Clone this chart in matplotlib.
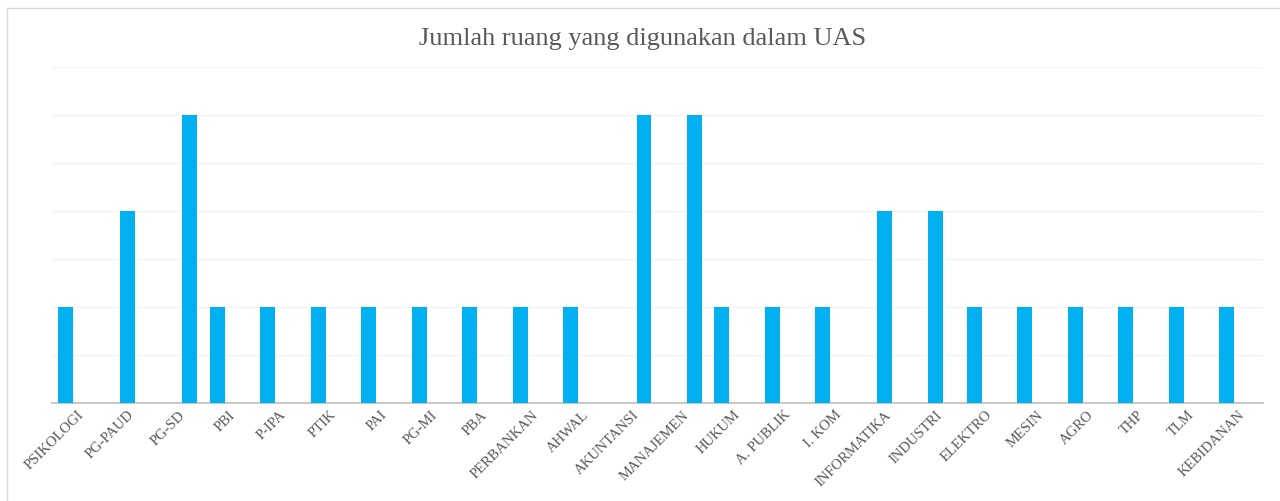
import numpy as np
import matplotlib.pyplot as plt
from matplotlib.patches import Rectangle

categories = ['PSIKOLOGI', 'PG-PAUD', 'PG-SD', 'PBI', 'P-IPA', 'PTIK', 'PAI', 'PG-MI',
              'PBA', 'PERBANKAN', 'AHWAL', 'AKUNTANSI', 'MANAJEMEN', 'HUKUM', 'A. PUBLIK',
              'I. KOM', 'INFORMATIKA', 'INDUSTRI', 'ELEKTRO', 'MESIN', 'AGRO', 'THP', 'TLM',
              'KEBIDANAN']
# three series in the original chart; each category has a value in only one of them
series_1 = [2, 0, 0, 2, 2, 2, 2, 2, 2, 2, 2, 0, 0, 2, 2, 2, 0, 0, 2, 2, 2, 2, 2, 2]
series_2 = [0, 4, 0, 0, 0, 0, 0, 0, 0, 0, 0, 0, 0, 0, 0, 0, 4, 4, 0, 0, 0, 0, 0, 0]
series_3 = [0, 0, 6, 0, 0, 0, 0, 0, 0, 0, 0, 6, 6, 0, 0, 0, 0, 0, 0, 0, 0, 0, 0, 0]

plt.rcParams['font.family'] = ['Liberation Serif', 'DejaVu Serif']

fig = plt.figure(figsize=(12.8, 5.02), dpi=100)
ax = fig.add_axes([0.0406, 0.1946, 0.9465, 0.6707])

x = np.arange(len(categories))
w = 0.297
off = 0.228
col = '#00B0F0'
for k, s in enumerate([series_1, series_2, series_3]):
    ax.bar(x + (k - 1) * off, s, width=w, color=col, linewidth=0, zorder=3)

ax.set_xlim(-0.5, len(categories) - 0.5)
ax.set_ylim(0, 7)
ax.set_yticks(np.arange(0, 8, 1))
ax.yaxis.grid(True, color='#F2F2F2', linewidth=1, zorder=0)
ax.tick_params(axis='y', left=False, labelleft=False)
ax.tick_params(axis='x', length=0, pad=3)
ax.set_xticks(x)
ax.set_xticklabels(categories, rotation=45, ha='right', rotation_mode='anchor',
                   fontsize=10.5, color='#595959')
for side in ['top', 'right', 'left']:
    ax.spines[side].set_visible(False)
ax.spines['bottom'].set_color('#BFBFBF')
ax.spines['bottom'].set_linewidth(1.2)

fig.text(0.502, 0.922, 'Jumlah ruang yang digunakan dalam UAS', ha='center', va='center',
         fontsize=19, color='#595959')

# chart area border (cut off at right and bottom in the original)
fig.patches.append(Rectangle((6.5 / 1280, -0.1), 1.2, 1.1 - 8.5 / 502,
                             transform=fig.transFigure, fill=False,
                             edgecolor='#D9D9D9', linewidth=1))

fig.savefig('out.png', dpi=100)
